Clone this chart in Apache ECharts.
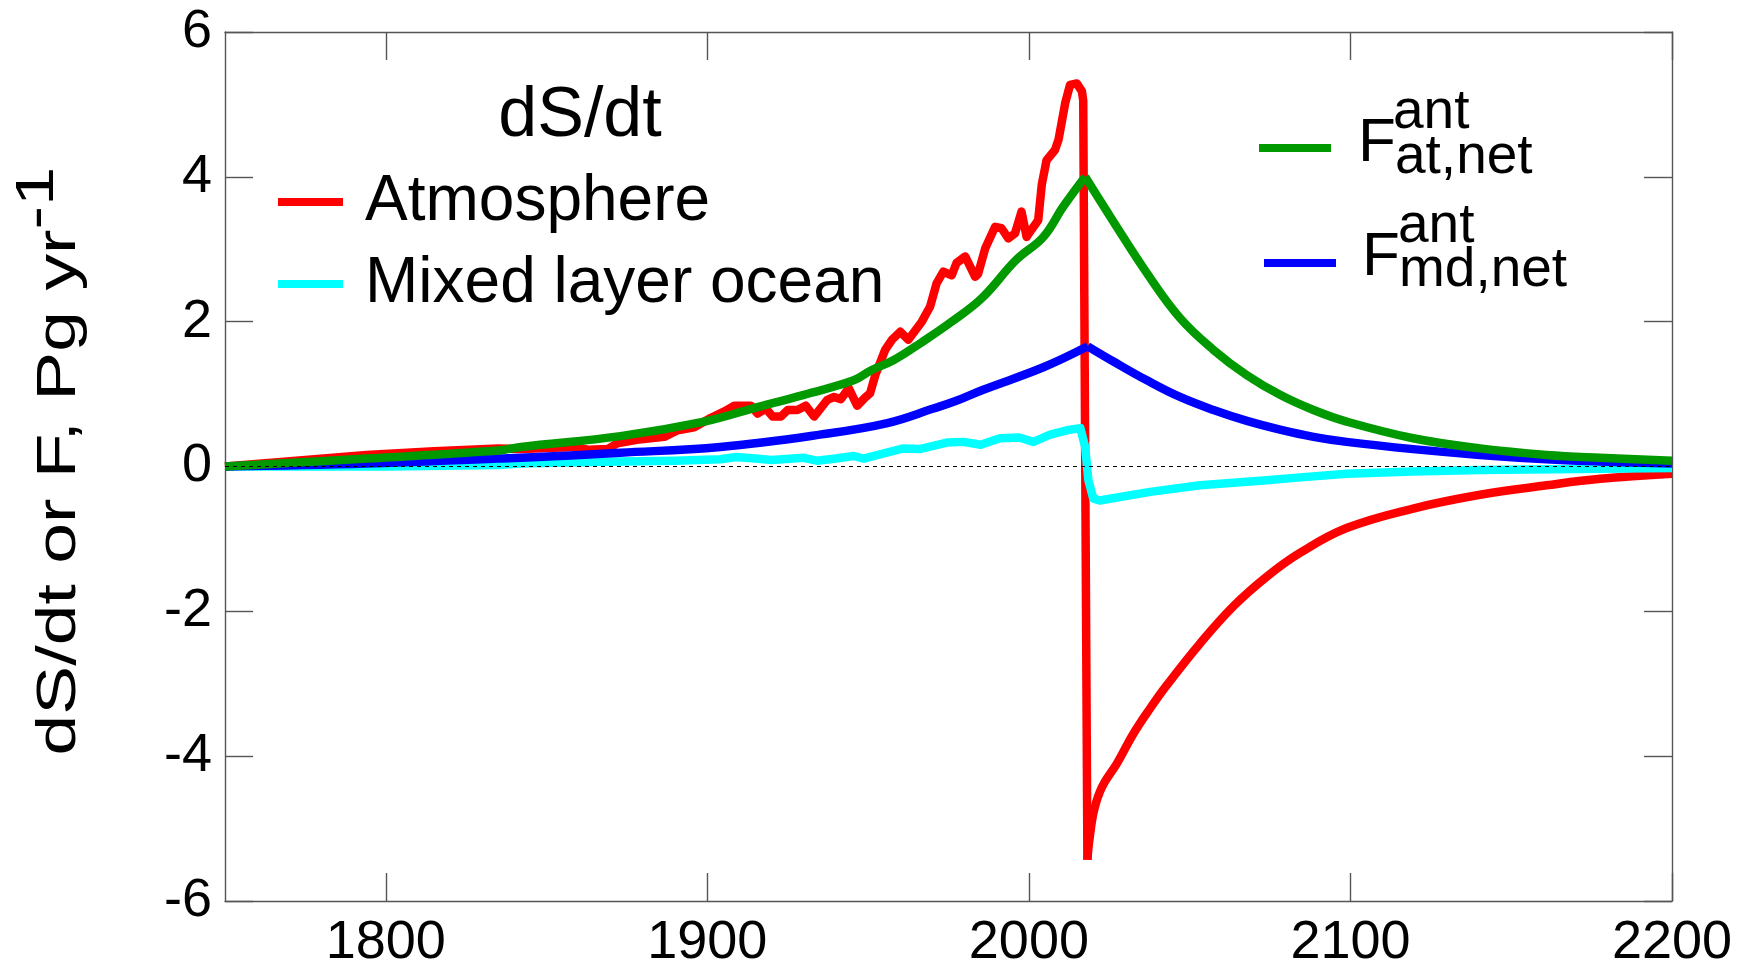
<!DOCTYPE html>
<html>
<head>
<meta charset="utf-8">
<script src="https://cdn.jsdelivr.net/npm/echarts@6/dist/echarts.min.js"></script>
<style>
    html, body { margin: 0; padding: 0; background: #fff; }
    #chart { width: 1747px; height: 962px; }
</style>
</head>
<body>
<div id="chart"></div>
<script>
    var FONT = 'Liberation Sans, Arial, Helvetica, sans-serif';

    var xTicks = [1800, 1900, 2000, 2100, 2200];

    // dS/dt atmosphere (rise up to the 2018 drop)
    var atmYears = [1750, 1775, 1794, 1815, 1835, 1842, 1852, 1859, 1863, 1869, 1872, 1878, 1886.6, 1890.8, 1895.9,
        1901, 1905.3, 1908.4, 1913.6, 1915.6, 1918.2, 1920.3, 1922.9, 1925, 1928, 1930.6, 1933.2, 1937.3, 1939.4, 1941.5,
        1944, 1946.6, 1949, 1950.6, 1952.3, 1955.3, 1957.4, 1960, 1962.5, 1966.7, 1969.3, 1971.3, 1973.4, 1976, 1977.5,
        1980.2, 1983.3, 1984.2, 1986.4, 1989.5, 1991.5, 1993.6, 1995.7, 1997.7, 1999.3, 2000.8, 2002.9, 2004, 2005.5, 2008.1,
        2009.2, 2011.3, 2012.8, 2014.9, 2016.5, 2016.9, 2018.2];
    var atmValues = [0, 0.09, 0.16, 0.21, 0.25, 0.24, 0.26, 0.27, 0.23, 0.24, 0.32, 0.37, 0.41, 0.50, 0.54,
        0.67, 0.76, 0.84, 0.84, 0.73, 0.80, 0.69, 0.69, 0.78, 0.78, 0.84, 0.69, 0.92, 0.96, 0.93,
        1.08, 0.84, 0.95, 1.01, 1.27, 1.61, 1.75, 1.86, 1.75, 2.00, 2.21, 2.53, 2.69, 2.64, 2.81,
        2.90, 2.62, 2.66, 3.01, 3.31, 3.29, 3.15, 3.22, 3.52, 3.17, 3.27, 3.40, 3.89, 4.23, 4.37,
        4.51, 5.02, 5.27, 5.29, 5.18, 5.05, -5.43];

    // dS/dt atmosphere (recovery after 2018)
    var atmPosYears = [2018.2, 2018.8, 2020.3, 2022.8, 2027.4, 2032.5, 2037.7, 2042.9, 2053.3,
        2063.6, 2074, 2084.4, 2098.8, 2119.5, 2140.3, 2161, 2177.7, 2200];
    var atmPosValues = [-5.43, -5.16, -4.74, -4.42, -4.10, -3.69, -3.34, -3.02, -2.44,
        -1.93, -1.52, -1.19, -0.85, -0.58, -0.39, -0.26, -0.17, -0.10];

    // dS/dt mixed layer ocean
    var mixYears = [1750, 1800, 1835, 1842, 1873, 1890, 1904, 1909, 1915, 1920, 1930, 1934, 1940, 1945.5, 1948.6,
        1955.8, 1961, 1966, 1974.5, 1979.7, 1985, 1991, 1997, 2001.4, 2006.6, 2011.8, 2016, 2017.5, 2018.5, 2020,
        2022, 2037.7, 2053.3, 2074, 2084.4, 2098.8, 2119.5, 2140.3, 2177.7, 2200];
    var mixValues = [0, 0, 0.02, 0.04, 0.07, 0.08, 0.10, 0.13, 0.11, 0.09, 0.12, 0.08, 0.11, 0.145, 0.11,
        0.19, 0.25, 0.24, 0.33, 0.34, 0.30, 0.39, 0.40, 0.34, 0.44, 0.50, 0.53, 0.27, -0.19, -0.44,
        -0.47, -0.35, -0.26, -0.19, -0.15, -0.10, -0.07, -0.05, -0.03, -0.02];

    // F ant at,net
    var fatYears = [1750, 1794, 1835, 1842, 1873, 1899, 1914, 1930, 1945.5, 1951, 1958, 1966.5, 1976, 1985.5, 1996,
        2004.5, 2010.7, 2017.5, 2026.3, 2036.7, 2047, 2057.4, 2067.8, 2078.1, 2088.5, 2098.8, 2119.5, 2140.3, 2161, 2177.7, 2200];
    var fatValues = [0, 0.11, 0.22, 0.27, 0.42, 0.62, 0.80, 0.99, 1.19, 1.33, 1.47, 1.71, 2.00, 2.33, 2.85,
        3.17, 3.59, 4.00, 3.38, 2.67, 2.05, 1.61, 1.26, 0.99, 0.78, 0.62, 0.39, 0.25, 0.16, 0.12, 0.08];

    // F ant md,net
    var fmdYears = [1750, 1794, 1835, 1842, 1873, 1904, 1935, 1956, 1970.3, 1977, 1985.8, 2004.5, 2018.3, 2026.3, 2036.7,
        2047, 2057.4, 2067.8, 2078.1, 2088.5, 2098.8, 2119.5, 2140.3, 2161, 2177.7, 2200];
    var fmdValues = [0, 0.04, 0.11, 0.12, 0.19, 0.27, 0.44, 0.60, 0.80, 0.90, 1.06, 1.37, 1.66, 1.45, 1.19,
        0.96, 0.78, 0.63, 0.51, 0.41, 0.34, 0.24, 0.16, 0.10, 0.07, 0.04];

    function pares(xs, ys) {
        return xs.map(function (x, i) { return [x, ys[i]]; });
    }

    // splits a curve at its maximum so the peak stays sharp while both sides are smoothed
    function dividirNoPico(xs, ys) {
        var iMax = ys.indexOf(Math.max.apply(null, ys));
        return [
            pares(xs.slice(0, iMax + 1), ys.slice(0, iMax + 1)),
            pares(xs.slice(iMax), ys.slice(iMax))
        ];
    }

    var axisCor = '#555';

    function eixoX(pos, mostrarLabel) {
        return {
            type: 'value', position: pos, min: 1750, max: 2200,
            axisLine: { show: true, onZero: false, lineStyle: { color: axisCor, width: 1.4 } },
            axisTick: { show: true, inside: true, length: 28, customValues: xTicks, lineStyle: { color: axisCor, width: 1.4 } },
            axisLabel: {
                show: mostrarLabel, customValues: xTicks, margin: 15, fontSize: 54, fontFamily: FONT, color: '#000',
                formatter: function (v) { return String(v); }
            },
            splitLine: { show: false }
        };
    }

    function eixoY(pos, mostrarLabel) {
        return {
            type: 'value', position: pos, min: -6, max: 6, interval: 2,
            axisLine: { show: true, onZero: false, lineStyle: { color: axisCor, width: 1.4 } },
            axisTick: { show: true, inside: true, length: 28, lineStyle: { color: axisCor, width: 1.4 } },
            axisLabel: { show: mostrarLabel, margin: 13, fontSize: 54, fontFamily: FONT, color: '#000' },
            splitLine: { show: false }
        };
    }

    function linha(nome, cor, data, smooth) {
        return {
            name: nome, type: 'line', data: data, color: cor,
            showSymbol: false, smooth: smooth, animation: false,
            lineStyle: { width: 8.5, color: cor, join: 'round', cap: 'butt' }
        };
    }

    // y title: main text plus raised "-1", measured so the superscript sits right after it
    var ctx = document.createElement('canvas').getContext('2d');
    ctx.font = '56px ' + FONT;
    var wTitulo = ctx.measureText('dS/dt or F, Pg yr').width;
    ctx.font = '54px ' + FONT;
    var wSup = ctx.measureText('-1').width;
    var x0 = -(wTitulo + wSup) / 2;

    var fat = dividirNoPico(fatYears, fatValues);
    var fmd = dividirNoPico(fmdYears, fmdValues);

    var dom = document.getElementById('chart');
    var chart = echarts.init(dom, null, { renderer: 'canvas' });

    var serieAtm = linha('Atmosphere', '#ff0000', pares(atmYears, atmValues), false);
    serieAtm.markLine = {
        silent: true, symbol: ['none', 'none'], label: { show: false },
        lineStyle: { color: '#000', width: 1, type: [4, 4] },
        data: [{ yAxis: 0 }]
    };

    chart.setOption({
        animation: false,
        backgroundColor: '#fff',
        grid: { left: 225, right: 75, top: 32, bottom: 61, containLabel: false, outerBoundsMode: 'none' },
        xAxis: [eixoX('bottom', true), eixoX('top', false)],
        yAxis: [eixoY('left', true), eixoY('right', false)],
        legend: [
            {
                data: ['Atmosphere', 'Mixed layer ocean'], orient: 'vertical', padding: 0,
                left: 278, top: 165, itemWidth: 65, itemHeight: 8, itemGap: 8,
                icon: 'rect', selectedMode: false,
                textStyle: { fontSize: 64, lineHeight: 64, fontFamily: FONT, color: '#000', padding: [0, 0, 10, 17] }
            },
            {
                data: ['F_at'], left: 1259, top: 144, itemWidth: 72, itemHeight: 8, padding: 0,
                icon: 'rect', selectedMode: false, formatter: function () { return ''; },
                textStyle: { fontSize: 8, lineHeight: 8 }
            },
            {
                data: ['F_md'], left: 1264, top: 259, itemWidth: 72, itemHeight: 8, padding: 0,
                icon: 'rect', selectedMode: false, formatter: function () { return ''; },
                textStyle: { fontSize: 8, lineHeight: 8 }
            }
        ],
        graphic: [
            {
                type: 'text', x: 580, y: 117,
                style: { text: 'dS/dt', fontSize: 70, fontFamily: FONT, fill: '#000', align: 'center', verticalAlign: 'middle' }
            },
            { type: 'text', x: 1358, y: 144, style: { text: 'F', fontSize: 62, fontFamily: FONT, fill: '#000', verticalAlign: 'middle' } },
            { type: 'text', x: 1393, y: 113, style: { text: 'ant', fontSize: 55, fontFamily: FONT, fill: '#000', verticalAlign: 'middle' } },
            { type: 'text', x: 1395, y: 158, style: { text: 'at,net', fontSize: 55, fontFamily: FONT, fill: '#000', verticalAlign: 'middle' } },
            { type: 'text', x: 1362, y: 258, style: { text: 'F', fontSize: 62, fontFamily: FONT, fill: '#000', verticalAlign: 'middle' } },
            { type: 'text', x: 1398, y: 227, style: { text: 'ant', fontSize: 55, fontFamily: FONT, fill: '#000', verticalAlign: 'middle' } },
            { type: 'text', x: 1399, y: 271, style: { text: 'md,net', fontSize: 55, fontFamily: FONT, fill: '#000', verticalAlign: 'middle' } },
            {
                type: 'group', x: 60, y: 461, rotation: Math.PI / 2, scaleX: 1.31,
                children: [
                    {
                        type: 'text', x: x0, y: 0,
                        style: { text: 'dS/dt or F, Pg yr', fontSize: 56, fontFamily: FONT, fill: '#000', align: 'left', verticalAlign: 'middle' }
                    },
                    {
                        type: 'text', x: x0 + wTitulo, y: -22,
                        style: { text: '-1', fontSize: 54, fontFamily: FONT, fill: '#000', align: 'left', verticalAlign: 'middle' }
                    }
                ]
            }
        ],
        series: [
            serieAtm,
            linha('Atmosphere', '#ff0000', pares(atmPosYears, atmPosValues), 0.4),
            linha('Mixed layer ocean', '#00ffff', pares(mixYears, mixValues), false),
            linha('F_md', '#0000ff', fmd[0], 0.4),
            linha('F_md', '#0000ff', fmd[1], 0.4),
            linha('F_at', '#009900', fat[0], 0.4),
            linha('F_at', '#009900', fat[1], 0.4)
        ]
    });

    window.addEventListener('resize', chart.resize);
</script>
</body>
</html>
